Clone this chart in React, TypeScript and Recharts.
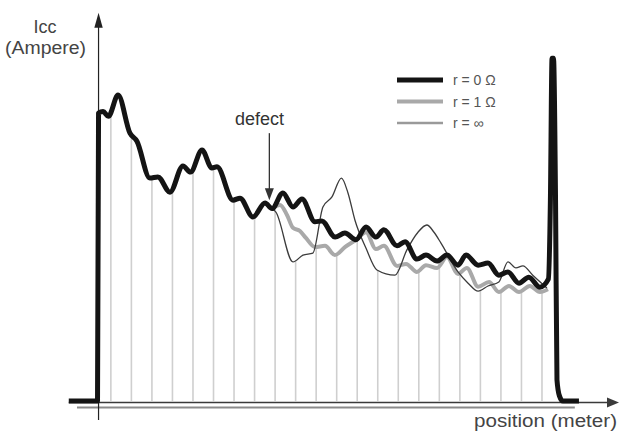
import React from 'react';
import { ComposedChart, Line, XAxis, YAxis, ReferenceLine, Legend } from 'recharts';

const W = 620;
const H = 438;
const X_DOMAIN: [number, number] = [-5.4, 24.8];
const Y_DOMAIN: [number, number] = [-0.92, 10];

// position (tower spans) / Icc (A) for r = 0 Ω
const r0Position = [-2.05, -0.65, -0.6, -0.38, -0.12, 0.35, 0.93, 1.27, 1.9, 2.29, 2.88, 3.51, 3.88, 4.44, 4.92, 5.17, 5.95, 6.29, 6.92, 7.51, 7.85, 8.38, 8.87, 9.31, 9.94, 10.28, 10.92, 11.4, 11.94, 12.43, 12.91, 13.3, 13.94, 14.33, 14.91, 15.35, 15.89, 16.37, 16.91, 17.3, 17.89, 18.37, 18.9, 19.34, 19.88, 20.36, 20.9, 21.31, 21.41, 21.49, 21.56, 21.66, 21.73, 21.85, 22.02, 22.8];
const r0Current = [0, 0, 7.18, 7.22, 7.1, 7.63, 6.68, 6.48, 5.56, 5.59, 5.21, 5.86, 5.71, 6.26, 5.81, 5.84, 5.01, 5.06, 4.59, 4.94, 4.8, 5.19, 4.84, 5.04, 4.47, 4.49, 4.09, 4.19, 4.02, 4.34, 4.09, 4.27, 3.87, 3.97, 3.54, 3.64, 3.49, 3.64, 3.39, 3.64, 3.39, 3.44, 3.14, 3.22, 2.94, 3.09, 2.84, 3.04, 5.01, 8.55, 8.55, 5.01, 0.53, 0.13, 0, 0];

// r = 1 Ω
const r1Position = [7.85, 8.24, 8.58, 8.87, 9.21, 9.5, 9.94, 10.43, 10.91, 11.4, 11.94, 12.43, 12.91, 13.3, 13.94, 14.38, 14.91, 15.35, 15.89, 16.37, 16.91, 17.34, 17.89, 18.42, 18.9, 19.39, 19.88, 20.41, 20.9, 21.29];
const r1Current = [4.8, 4.89, 4.64, 4.32, 4.24, 4.07, 3.84, 3.87, 3.64, 3.84, 4.02, 4.21, 3.79, 3.87, 3.37, 3.42, 3.22, 3.39, 3.32, 3.59, 3.17, 3.32, 2.85, 2.97, 2.72, 2.87, 2.72, 2.87, 2.72, 2.79];

// r = ∞
const rInfPosition = [7.85, 8.04, 8.87, 9.36, 9.84, 10.33, 10.77, 11.23, 11.55, 11.89, 12.43, 12.96, 13.84, 14.42, 14.96, 15.39, 15.74, 16.08, 16.91, 17.4, 17.89, 18.37, 18.9, 19.34, 19.73, 20.07, 20.55, 21.24];
const rInfCurrent = [4.8, 4.71, 3.47, 3.64, 3.69, 4.84, 5.09, 5.56, 5.19, 4.51, 3.81, 3.27, 3.14, 3.77, 4.21, 4.39, 4.21, 3.94, 3.22, 2.94, 2.74, 2.87, 2.97, 3.47, 3.32, 3.37, 3.14, 2.82];

// towers
const towerPosition = [0, 1, 2, 3, 4, 5, 6, 7, 8, 9, 10, 11, 12, 13, 14, 15, 16, 17, 18, 19, 20, 21];
const towerCurrent = [7.15, 6.65, 5.55, 5.25, 5.8, 5.82, 5.02, 4.6, 4.82, 3.5, 3.85, 3.65, 4.03, 3.27, 3.3, 3.24, 3.35, 3.2, 2.76, 2.74, 2.73, 2.73];

const seriesNames = ['r = 0 Ω', 'r = 1 Ω', 'r = ∞'];
const seriesColors = ['#141414', '#a9a9a9', '#9a9a9a'];
const legendWidths = [5, 4, 2.5];

const FONT = '"Liberation Sans", Arial, Helvetica, sans-serif';

const zip = (xs: number[], ys: number[]) => xs.map((x, i) => ({ x, y: ys[i] }));

const arrowShape = (head: number, half: number) => (props: any) => {
  const { x1, y1, x2, y2, stroke, strokeWidth } = props;
  const dx = x2 - x1;
  const dy = y2 - y1;
  const len = Math.hypot(dx, dy) || 1;
  const ux = dx / len;
  const uy = dy / len;
  const bx = x2 - ux * head;
  const by = y2 - uy * head;
  const px = -uy * half;
  const py = ux * half;
  return (
    <g>
      <line x1={x1} y1={y1} x2={bx + ux * 2} y2={by + uy * 2} stroke={stroke} strokeWidth={strokeWidth} />
      <polygon points={`${x2},${y2} ${bx + px},${by + py} ${bx - px},${by - py}`} fill={stroke} />
    </g>
  );
};

const renderLegend = () => (
  <svg width={140} height={70} style={{ display: 'block' }}>
    {seriesNames.map((name, i) => {
      const y = 14 + i * 21.5;
      return (
        <g key={name}>
          <line x1={7} x2={53} y1={y} y2={y} stroke={seriesColors[i]} strokeWidth={legendWidths[i]} />
          <text x={63} y={y + 5} fontSize={14} fill="#555" fontFamily={FONT}>
            {name}
          </text>
        </g>
      );
    })}
  </svg>
);

export default function App() {
  return (
    <div style={{ position: 'absolute', left: 0, top: 0, width: W, height: H, background: '#fff' }}>
      <ComposedChart width={W} height={H} margin={{ top: 0, right: 0, bottom: 0, left: 0 }}>
        <XAxis type="number" dataKey="x" domain={X_DOMAIN} allowDataOverflow hide />
        <YAxis type="number" dataKey="y" domain={Y_DOMAIN} allowDataOverflow hide />
        {towerPosition.map((p, i) => (
          <ReferenceLine
            key={'t' + i}
            segment={[{ x: p, y: 0 }, { x: p, y: towerCurrent[i] }]}
            stroke="#cfcfcf"
            strokeWidth={1.6}
            ifOverflow="visible"
          />
        ))}
        <ReferenceLine
          segment={[{ x: -1.65, y: -0.16 }, { x: 22.6, y: -0.16 }]}
          stroke="#8a8a8a"
          strokeWidth={2}
          ifOverflow="visible"
        />
        <ReferenceLine
          segment={[{ x: -2.05, y: -0.035 }, { x: 24.75, y: -0.035 }]}
          stroke="#3a3a3a"
          strokeWidth={1.3}
          ifOverflow="visible"
          shape={arrowShape(12, 5)}
        />
        <ReferenceLine
          segment={[{ x: -0.6, y: -0.47 }, { x: -0.6, y: 9.68 }]}
          stroke="#222"
          strokeWidth={1.2}
          ifOverflow="visible"
          shape={arrowShape(15, 4.2)}
        />
        <Line
          data={zip(r1Position, r1Current)}
          dataKey="y"
          name={seriesNames[1]}
          type="monotone"
          stroke={seriesColors[1]}
          strokeWidth={4}
          dot={false}
          activeDot={false}
          isAnimationActive={false}
          strokeLinejoin="round"
        />
        <Line
          data={zip(rInfPosition, rInfCurrent)}
          dataKey="y"
          name={seriesNames[2]}
          type="monotone"
          stroke="#3c3c3c"
          strokeWidth={1.3}
          dot={false}
          activeDot={false}
          isAnimationActive={false}
        />
        <Line
          data={zip(r0Position, r0Current)}
          dataKey="y"
          name={seriesNames[0]}
          type="monotone"
          stroke={seriesColors[0]}
          strokeWidth={5}
          dot={false}
          activeDot={false}
          isAnimationActive={false}
          strokeLinejoin="round"
        />
        <ReferenceLine
          segment={[{ x: 7.72, y: 6.68 }, { x: 7.72, y: 5.01 }]}
          stroke="#333"
          strokeWidth={1.3}
          ifOverflow="visible"
          shape={arrowShape(12, 4.5)}
        />
        <Legend
          layout="vertical"
          align="center"
          verticalAlign="middle"
          content={renderLegend}
          wrapperStyle={{ position: 'absolute', left: 390, top: 66, width: 140, height: 70 }}
        />
      </ComposedChart>
      <svg
        width={W}
        height={H}
        style={{ position: 'absolute', left: 0, top: 0, pointerEvents: 'none' }}
      >
        <text x={45} y={33} textAnchor="middle" fontSize={18} fill="#444" fontFamily={FONT}>
          Icc
        </text>
        <text x={5} y={54} fontSize={18} fill="#444" fontFamily={FONT} textLength={81} lengthAdjust="spacingAndGlyphs">
          (Ampere)
        </text>
        <text x={235} y={125} fontSize={18} fill="#333" fontFamily={FONT}>
          defect
        </text>
        <text x={474} y={427} fontSize={18} fill="#444" fontFamily={FONT} textLength={143} lengthAdjust="spacingAndGlyphs">
          position (meter)
        </text>
      </svg>
    </div>
  );
}
